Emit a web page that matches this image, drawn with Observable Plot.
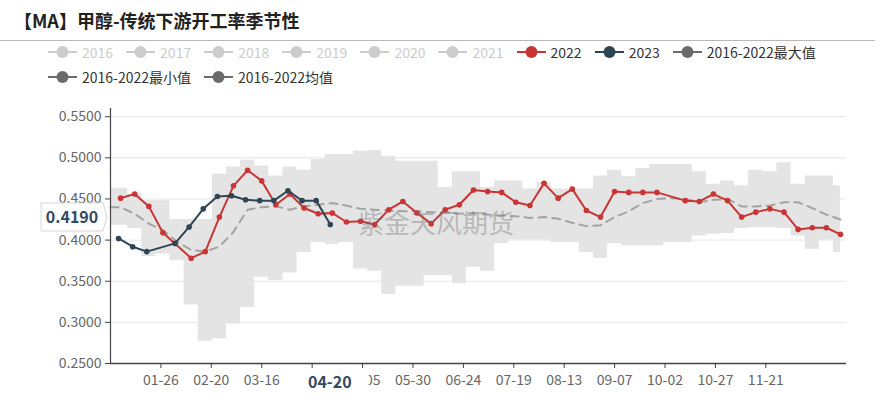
<!DOCTYPE html>
<html><head><meta charset="utf-8">
<script src="https://cdn.jsdelivr.net/npm/d3@7"></script>
<script src="https://cdn.jsdelivr.net/npm/@observablehq/plot@0.6"></script>
<style>
body{margin:0;background:#fff;font-family:"Noto Sans CJK SC","Noto Sans",sans-serif;}
#wrap{position:relative;width:885px;height:409px;overflow:hidden;background:#fff;}
#title{position:absolute;left:14px;top:9px;font-size:18px;line-height:22px;font-weight:bold;color:#222;white-space:nowrap;}
#hr{position:absolute;left:0;top:40px;width:875px;height:1px;background:#b8b8b8;}
.leg{position:absolute;left:48px;height:18px;display:flex;align-items:center;font-size:14px;line-height:18px;white-space:nowrap;}
.item{display:flex;align-items:center;margin-right:13px;}
.item svg{margin-right:5px;display:block;}
#chart{position:absolute;left:0;top:90px;}
#wm{position:absolute;left:358px;top:208px;font-size:26px;line-height:28px;color:rgba(110,110,110,0.38);white-space:nowrap;pointer-events:none;}
</style></head>
<body>
<div id="wrap">
  <div id="title">【MA】甲醇-传统下游开工率季节性</div>
  <div id="hr"></div>
  <div class="leg" id="leg1" style="top:43px"></div>
  <div class="leg" id="leg2" style="top:68px"></div>
  <div id="chart"></div>
  <div id="wm">紫金天风期货</div>
</div>
<script>
// ---------------- data ----------------
const legendNames = ["2016","2017","2018","2019","2020","2021","2022","2023","2016-2022最大值","2016-2022最小值","2016-2022均值"];

const tickLabels = ["01-26","02-20","03-16","04-10","05-05","05-30","06-24","07-19","08-13","09-07","10-02","10-27","11-21"];
const yTicks = [0.25,0.30,0.35,0.40,0.45,0.50,0.55];

const weeks2022 = ["01-06","01-13","01-20","01-27","02-03","02-10","02-17","02-24","03-03","03-10","03-17","03-24","03-31","04-07","04-14","04-21","04-28","05-05","05-12","05-19","05-26","06-02","06-09","06-16","06-23","06-30","07-07","07-14","07-21","07-28","08-04","08-11","08-18","08-25","09-01","09-08","09-15","09-22","09-29","10-06","10-13","10-20","10-27","11-03","11-10","11-17","11-24","12-01","12-08","12-15","12-22","12-29"];
const v2022 = [0.451,0.456,0.441,0.409,null,0.378,0.386,0.428,0.466,0.485,0.472,0.443,0.456,0.439,0.432,0.433,0.422,0.423,0.419,0.437,0.447,0.433,0.420,0.437,0.443,0.461,0.459,0.458,0.446,0.442,0.469,0.451,0.462,0.436,0.428,0.459,0.458,0.458,0.458,null,0.448,0.447,0.456,0.448,0.428,0.434,0.438,0.434,0.413,0.415,0.415,0.407];

const weeks2023 = ["01-05","01-12","01-19","01-26","02-02","02-09","02-16","02-23","03-02","03-09","03-16","03-23","03-30","04-06","04-13","04-20"];
const v2023 = [0.402,0.392,0.386,null,0.396,0.416,0.438,0.453,0.454,0.449,0.448,0.448,0.460,0.448,0.448,0.419];

const bandDates = ["01-01"].concat(weeks2022);
const bandMax = [0.463,0.463,0.456,0.448,0.448,0.425,0.425,0.425,0.480,0.489,0.497,0.490,0.478,0.489,0.485,0.498,0.504,0.504,0.508,0.509,0.502,0.496,0.496,0.496,0.464,0.483,0.483,0.464,0.472,0.472,0.462,0.470,0.462,0.462,0.462,0.478,0.485,0.477,0.487,0.492,0.492,0.492,0.483,0.468,0.472,0.466,0.485,0.483,0.494,0.468,0.478,0.478,0.466];
const bandMin = [0.418,0.418,0.414,0.380,0.383,0.375,0.321,0.277,0.280,0.298,0.318,0.355,0.351,0.360,0.385,0.397,0.395,0.397,0.365,0.362,0.334,0.344,0.344,0.357,0.357,0.347,0.367,0.362,0.396,0.400,0.400,0.400,0.397,0.397,0.385,0.378,0.396,0.393,0.393,0.393,0.397,0.397,0.405,0.407,0.408,0.414,0.415,0.415,0.414,0.405,0.389,0.400,0.385];
const bandMean = [0.440,0.440,0.432,0.420,0.412,0.398,0.388,0.386,0.392,0.410,0.437,0.440,0.441,0.437,0.441,0.443,0.445,0.442,0.438,0.437,0.436,0.435,0.435,0.434,0.434,0.432,0.433,0.431,0.430,0.429,0.427,0.428,0.426,0.421,0.417,0.418,0.428,0.435,0.445,0.450,0.451,0.450,0.446,0.449,0.450,0.441,0.441,0.442,0.446,0.446,0.439,0.431,0.425];

const hoverDate = "04-20";
const hoverValue = 0.4190;

// ---------------- styles ----------------
const RED = "#c93434", NAVY = "#2f4554", GREY = "#6b6b6b", OFF = "#cccccc";
const legendColor = n => n === "2022" ? RED : n === "2023" ? NAVY : n.startsWith("2016-") ? GREY : OFF;
const legendText = n => legendColor(n) === OFF ? OFF : "#333";

// ---------------- legend ----------------
function addItem(row, name) {
  const it = row.append("div").attr("class", "item");
  const s = it.append("svg").attr("width", 29).attr("height", 14);
  s.append("line").attr("x1", 0).attr("x2", 29).attr("y1", 7).attr("y2", 7)
    .attr("stroke", legendColor(name)).attr("stroke-width", 2);
  s.append("circle").attr("cx", 14.5).attr("cy", 7).attr("r", 6).attr("fill", legendColor(name));
  it.append("span").style("color", legendText(name)).text(name);
}
const r1 = d3.select("#leg1"), r2 = d3.select("#leg2");
legendNames.forEach((n, i) => addItem(i < 9 ? r1 : r2, n));

// ---------------- chart ----------------
const parse = d3.utcParse("%Y-%m-%d");
const dayOfYear = (md, yr) => d3.utcDay.count(new Date(Date.UTC(yr, 0, 1)), parse(`${yr}-${md}`));

const tickDays = tickLabels.map(l => dayOfYear(l, 2020));
const labelOf = new Map(tickDays.map((d, i) => [d, tickLabels[i]]));
const hoverDay = dayOfYear(hoverDate, 2023);
// the tick label hidden under the hover label is not drawn
const shownTicks = tickDays.filter(d => Math.abs(d - hoverDay) > 12);

const s2022 = weeks2022.map((md, i) => ({x: dayOfYear(md, 2022), v: v2022[i]})).filter(d => d.v != null);
const s2023 = weeks2023.map((md, i) => ({x: dayOfYear(md, 2023), v: v2023[i]})).filter(d => d.v != null);
const band = bandDates.map((md, i) => ({x: dayOfYear(md, 2022), max: bandMax[i], min: bandMin[i], mean: bandMean[i]}));

const chart = Plot.plot({
  width: 885, height: 319,
  marginLeft: 110, marginRight: 39, marginTop: 18, marginBottom: 46,
  style: {fontFamily: '"Noto Sans CJK SC","Noto Sans",sans-serif', fontSize: "14px", color: "#666", background: "transparent"},
  x: {domain: [0, 365]},
  y: {domain: [0.25, 0.56]},
  marks: [
    Plot.gridY(yTicks, {stroke: "#e6e6e6", strokeOpacity: 1}),
    Plot.areaY(band, {x: "x", y1: "min", y2: "max", curve: "step", fill: "#e4e4e4"}),
    Plot.line(band, {x: "x", y: "mean", stroke: "#a3a3a3", strokeWidth: 2, strokeDasharray: "8,6"}),
    Plot.line(s2022, {x: "x", y: "v", stroke: RED, strokeWidth: 2}),
    Plot.dot(s2022, {x: "x", y: "v", r: 2.8, fill: RED}),
    Plot.line(s2023, {x: "x", y: "v", stroke: NAVY, strokeWidth: 2}),
    Plot.dot(s2023, {x: "x", y: "v", r: 2.8, fill: NAVY}),
    Plot.ruleX([0], {stroke: "#444", strokeWidth: 1.2}),
    Plot.ruleY([0.25], {stroke: "#444", strokeWidth: 1.5}),
    Plot.axisY(yTicks, {tickFormat: d => d.toFixed(4), tickSize: 5, tickPadding: 4, stroke: "#444", fill: "#666", fontSize: 14, label: null}),
    Plot.axisX(tickDays, {tickFormat: () => "", tickSize: 5, tickPadding: 7, stroke: "#444", label: null}),
    Plot.axisX(shownTicks, {tickFormat: d => labelOf.get(d), tickSize: 0, tickPadding: 12, fill: "#666", fontSize: 14, label: null})
  ]
});
document.getElementById("chart").appendChild(chart);

// hover pointer labels, placed through the chart's scales
const X = chart.scale("x"), Y = chart.scale("y");
const svg = d3.select(chart);
const g = svg.append("g");
const hx = X.apply(hoverDay);
const axisBottom = Y.apply(0.25);
g.append("rect").attr("x", hx - 39).attr("y", axisBottom + 6).attr("width", 78).attr("height", 28).attr("fill", "#fff");
g.append("text").attr("x", hx).attr("y", axisBottom + 25).attr("text-anchor", "middle")
  .attr("font-weight", "bold").attr("font-size", 16).attr("fill", "#34495e").text(hoverDate);

const hy = Y.apply(hoverValue) - 7;
const x0 = X.apply(0);
g.append("path")
  .attr("d", `M${x0-69},${hy-14}H${x0-7}L${x0-3},${hy}L${x0-7},${hy+14}H${x0-69}Z`)
  .attr("fill", "#fff").attr("stroke", "#d6d6d6");
g.append("text").attr("x", x0 - 38).attr("y", hy + 6).attr("text-anchor", "middle")
  .attr("font-weight", "bold").attr("font-size", 16).attr("fill", "#34495e").text(hoverValue.toFixed(4));
</script>
</body></html>
